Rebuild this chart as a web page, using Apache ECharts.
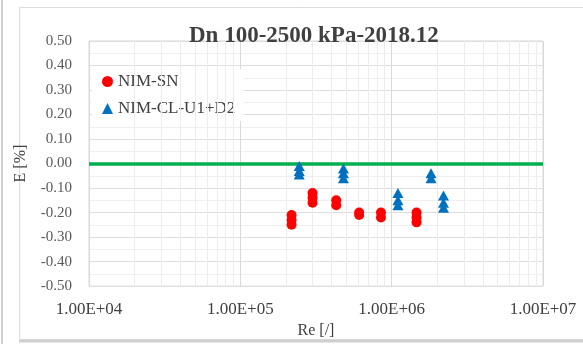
<!DOCTYPE html>
<html><head><meta charset="utf-8">
<script src="https://cdn.jsdelivr.net/npm/echarts@6/dist/echarts.min.js"></script>
<style>html,body{margin:0;padding:0;background:#fff}#c{width:583px;height:344px}</style>
</head><body><div id="c"></div>
<script>
// ---- data ----
const titleText = 'Dn 100-2500 kPa-2018.12';
const seriesNames = ['NIM-SN', 'NIM-CL-U1+D2'];
const snRe = [2.18e5, 2.18e5, 2.18e5, 3.0e5, 3.0e5, 3.0e5, 4.3e5, 4.3e5, 6.1e5, 6.1e5, 8.5e5, 8.5e5, 1.46e6, 1.46e6, 1.46e6];
const snE  = [-0.21, -0.23, -0.25, -0.12, -0.14, -0.16, -0.15, -0.17, -0.20, -0.21, -0.20, -0.22, -0.20, -0.22, -0.24];
const clRe = [2.45e5, 2.45e5, 2.45e5, 4.8e5, 4.8e5, 4.8e5, 1.10e6, 1.10e6, 1.10e6, 1.82e6, 1.82e6, 2.20e6, 2.20e6, 2.20e6];
const clE  = [-0.01, -0.03, -0.045, -0.02, -0.04, -0.06, -0.12, -0.15, -0.17, -0.04, -0.06, -0.13, -0.16, -0.18];
const xMin = 1e4, xMax = 1e7;
const yMin = -0.5, yMax = 0.5, yStep = 0.1;
const refLineE = 0;
const xName = 'Re [/]', yName = 'E [%]';

// minor grid positions (2..9 of each decade)
const minorX = [];
for (let d = xMin; d < xMax; d *= 10) for (let k = 2; k <= 9; k++) minorX.push(d * k);

const font = 'Liberation Serif';
function fmtExp(v) {
  const e = Math.round(Math.log10(v));
  const m = v / Math.pow(10, e);
  return m.toFixed(2) + 'E' + (e >= 0 ? '+' : '-') + String(Math.abs(e)).padStart(2, '0');
}

const chart = echarts.init(document.getElementById('c'), null, {renderer: 'canvas'});
chart.setOption({
  animation: false,
  backgroundColor: '#fff',
  graphic: [
    {type: 'line', shape: {x1: 2, y1: 0, x2: 2, y2: 344}, style: {stroke: '#d0d0d0', lineWidth: 2}, z: -10},
    {type: 'rect', shape: {x: 19.5, y: 7.5, width: 580, height: 332}, style: {fill: '#fff', stroke: '#dcdcdc', lineWidth: 1}, z: -10},
    {type: 'line', shape: {x1: 19, y1: 341, x2: 583, y2: 341}, style: {stroke: '#cfcfcf', lineWidth: 3}, z: -9}
  ],
  title: {
    text: titleText, left: 184, top: 20,
    textStyle: {fontFamily: font, fontWeight: 'bold', fontSize: 23, color: '#404040'}
  },
  legend: {
    data: seriesNames, orient: 'vertical', left: 92, top: 69,
    backgroundColor: '#fff', padding: [4, 8, 4, 10], itemGap: 10,
    itemWidth: 11, itemHeight: 11, itemStyle: {borderWidth: 0},
    textStyle: {fontFamily: font, fontSize: 17, color: '#404040'}
  },
  grid: {left: 89, right: 40, top: 41, bottom: 50, show: true, borderColor: '#d9d9d9', borderWidth: 1, containLabel: false},
  xAxis: {
    type: 'log', logBase: 10, min: xMin, max: xMax,
    name: xName, nameLocation: 'middle', nameGap: 29,
    nameTextStyle: {fontFamily: font, fontSize: 16, color: '#404040'},
    axisLine: {show: false}, axisTick: {show: false},
    axisLabel: {formatter: fmtExp, margin: 15, fontFamily: font, fontSize: 17, color: '#404040'},
    splitLine: {show: true, lineStyle: {color: '#d9d9d9', width: 1}}
  },
  yAxis: {
    type: 'value', min: yMin, max: yMax, interval: yStep,
    name: yName, nameLocation: 'middle', nameGap: 60, nameRotate: 90,
    nameTextStyle: {fontFamily: font, fontSize: 16, color: '#404040'},
    axisLine: {show: false}, axisTick: {show: false},
    axisLabel: {formatter: v => v.toFixed(2), margin: 17, fontFamily: font, fontSize: 15, color: '#595959'},
    splitLine: {show: true, lineStyle: {color: '#dedede', width: 1}},
    minorTick: {show: false, splitNumber: 2},
    minorSplitLine: {show: true, lineStyle: {color: '#efefef', width: 1}}
  },
  series: [
    {
      name: '_grid', type: 'scatter', data: [], z: 1, silent: true,
      markLine: {
        silent: true, symbol: 'none', label: {show: false},
        lineStyle: {color: '#ececec', width: 1, type: 'solid'},
        data: minorX.map(v => ({xAxis: v}))
      }
    },
    {
      name: '_zero', type: 'scatter', data: [], z: 2, silent: true,
      markLine: {
        silent: true, symbol: 'none', label: {show: false},
        lineStyle: {color: '#00b050', width: 3.5, type: 'solid'},
        data: [{yAxis: refLineE}]
      }
    },
    {
      name: seriesNames[0], type: 'scatter', z: 5,
      symbol: 'circle', symbolSize: 10,
      itemStyle: {color: '#ff0000', opacity: 1},
      data: snRe.map((x, i) => [x, snE[i]])
    },
    {
      name: seriesNames[1], type: 'scatter', z: 5,
      symbol: 'triangle', symbolSize: [11, 10],
      itemStyle: {color: '#0070c0', opacity: 1},
      data: clRe.map((x, i) => [x, clE[i]])
    }
  ]
});
</script></body></html>
